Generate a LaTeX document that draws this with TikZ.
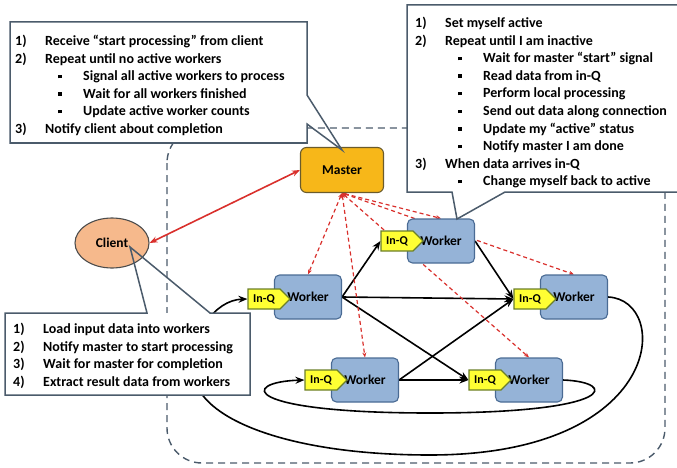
\documentclass[tikz,border=0pt]{standalone}
\usepackage{fontspec}
\setmainfont{Carlito}
\usetikzlibrary{shapes.geometric,shapes.symbols,backgrounds,arrows.meta}
\definecolor{notedraw}{HTML}{4B5B6B}
\definecolor{workerfill}{HTML}{95B3D7}
\definecolor{workerdraw}{HTML}{4A6B94}
\definecolor{inqfill}{HTML}{FFFF33}
\definecolor{inqdraw}{HTML}{6B7F2A}
\definecolor{masterfill}{HTML}{F7B719}
\definecolor{masterdraw}{HTML}{6B5B2B}
\definecolor{clientfill}{HTML}{F6B98C}
\definecolor{clientdraw}{HTML}{4D4D4D}
\definecolor{signalred}{HTML}{D9302C}
\tikzset{
  worker/.style={draw=workerdraw, fill=workerfill, rounded corners=5pt, line width=1.1pt,
    minimum width=67pt, minimum height=44pt, font=\bfseries\fontsize{13.5}{14}\selectfont},
  inq/.style={signal, signal to=east, draw=inqdraw, fill=inqfill, line width=1.1pt,
    minimum width=42pt, minimum height=20pt, inner sep=1pt, font=\bfseries\fontsize{12}{12}\selectfont},
  master/.style={draw=masterdraw, fill=masterfill, rounded corners=6pt, line width=1.1pt,
    minimum width=83pt, minimum height=45pt, font=\bfseries\fontsize{13.5}{14}\selectfont},
  client/.style={ellipse, draw=clientdraw, fill=clientfill, line width=1.1pt,
    minimum width=74pt, minimum height=50pt, inner sep=0pt, font=\bfseries\fontsize{13.5}{14}\selectfont},
  flow/.style={-{Stealth[length=9pt,width=7pt]}, line width=1.6pt},
  ping/.style={{Stealth[length=5pt,width=4pt]}-{Stealth[length=5pt,width=4pt]}, signalred,
    line width=1.2pt, dash pattern=on 4pt off 3pt},
  talk/.style={{Stealth[length=8pt,width=6pt]}-{Stealth[length=8pt,width=6pt]}, signalred, line width=1.6pt},
  boundary/.style={draw=notedraw, line width=1.4pt, dash pattern=on 7pt off 5pt, rounded corners=35pt},
  note/.style={draw=notedraw, line width=1.5pt},
  notetext/.style={anchor=north west, inner sep=0pt, align=left, font=\bfseries\fontsize{14}{17.6}\selectfont}
}
\newcommand{\nitem}[2]{\makebox[30pt][l]{#1}#2}
\newcommand{\bitem}[1]{\hspace{43pt}\makebox[25pt][l]{\rule[2.5pt]{3.5pt}{3.5pt}}#1}

\begin{document}
\begin{tikzpicture}[>=stealth, x=1pt, y=-1pt]
  \useasboundingbox (0,0) rectangle (677,468);
  % client, master and the workers
  \node[client] (client) at (112,243) {Client};
  \node[master] (master) at (342,170) {Master};
  \node[worker] (w1) at (308,297) {Worker};
  \node[worker] (w2) at (441,241) {Worker};
  \node[worker] (w3) at (574,297) {Worker};
  \node[worker] (w4) at (365,380) {Worker};
  \node[worker] (w5) at (529,380) {Worker};
  % input queues
  \node[inq] (q1) at (264,299) {In-Q};
  \node[inq] (q2) at (397,241) {In-Q};
  \node[inq] (q3) at (530,299) {In-Q};
  \node[inq] (q4) at (321,380) {In-Q};
  \node[inq] (q5) at (485,380) {In-Q};
  \begin{pgfonlayer}{background}
    \draw[boundary] (167,128) rectangle (665,463);
    % data connections
    \draw[flow] (w1.east) -- (q2.west);
    \draw[flow] (w1.east) -- (q3.west);
    \draw[flow] (w1.east) -- (q5.west);
    \draw[flow] (w2.east) -- (q3.west);
    \draw[flow] (w4.east) -- (q5.west);
    \draw[flow] (w4.east) -- (q3.west);
    \draw[flow] (w5.east) .. controls (618,382) and (618,413) .. (430,413)
      .. controls (240,413) and (240,382) .. (q4.west);
    \draw[flow] (w3.east) .. controls (672,300) and (665,455) .. (430,455)
      .. controls (290,455) and (205,420) .. (195,380)
      .. controls (188,335) and (215,300) .. (q1.west);
    % control signals
    \draw[talk] (client.east) -- (master.west);
    \foreach \w in {w1,w2,w3,w4,w5}
      \draw[ping] (master.south) -- (\w.north);
  \end{pgfonlayer}
  % master notes
  \fill[white] (10,22) rectangle (307,143);
  \draw[note] (10,22) -- (307,22) -- (307,95) -- (342,150) -- (307,124) -- (307,143) -- (10,143) -- cycle;
  \node[notetext] (masterplan) at (15,35) {\nitem{1)}{Receive “start processing” from client}\\
    \nitem{2)}{Repeat until no active workers}\\
    \bitem{Signal all active workers to process}\\
    \bitem{Wait for all workers finished}\\
    \bitem{Update active worker counts}\\
    \nitem{3)}{Notify client about completion}};
  % worker notes
  \fill[white] (407,5) rectangle (690,192);
  \draw[note] (690,5) -- (407,5) -- (407,192) -- (452,192) -- (457,219) -- (505,192) -- (690,192);
  \node[notetext] (workerplan) at (415,17) {\nitem{1)}{Set myself active}\\
    \nitem{2)}{Repeat until I am inactive}\\
    \bitem{Wait for master “start” signal}\\
    \bitem{Read data from in-Q}\\
    \bitem{Perform local processing}\\
    \bitem{Send out data along connection}\\
    \bitem{Update my “active” status}\\
    \bitem{Notify master I am done}\\
    \nitem{3)}{When data arrives in-Q}\\
    \bitem{Change myself back to active}};
  % client notes
  \fill[white] (5,313) rectangle (250,395);
  \draw[note] (5,313) -- (147,313) -- (130,247) -- (210,313) -- (250,313) -- (250,395) -- (5,395) -- cycle;
  \node[notetext] (clientplan) at (13,323) {\nitem{1)}{Load input data into workers}\\
    \nitem{2)}{Notify master to start processing}\\
    \nitem{3)}{Wait for master for completion}\\
    \nitem{4)}{Extract result data from workers}};
\end{tikzpicture}
\end{document}
